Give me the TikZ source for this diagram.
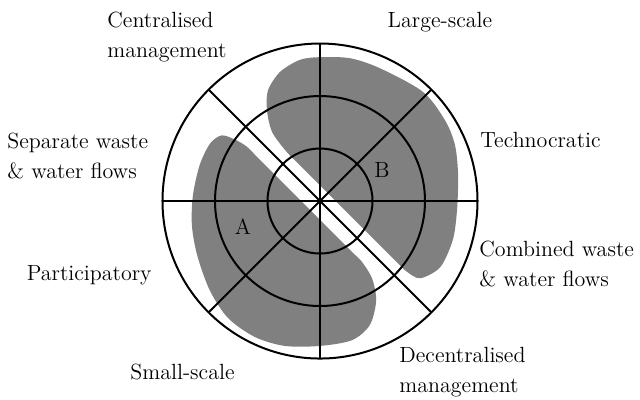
\documentclass[tikz,border=0pt]{standalone}
\usepackage{tikz}
\definecolor{blobgray}{gray}{0.5}
\begin{document}
\begin{tikzpicture}[x=26.25pt,y=26.25pt]
	\tikzstyle{lbl} = [inner sep=0pt,align=left,font=\fontsize{11}{15}\selectfont]
	\tikzstyle{grid} = [line width=1pt]
	\useasboundingbox (-6.095,-3.771) rectangle (6.095,3.829);

	% region B
	\fill[blobgray] plot[smooth] coordinates {(-0.45,0.75) (-0.63,0.93) (-0.91,1.31) (-1.01,1.73) (-0.99,2.11) (-0.76,2.46) (-0.38,2.69) (0,2.74) (0.57,2.72) (1.14,2.53) (1.96,2.08) (2.38,1.54) (2.57,1.07) (2.63,0.50) (2.61,-0.17) (2.53,-0.74) (2.29,-1.26) (1.91,-1.47) (1.66,-1.35) (1.50,-1.20)} -- cycle;
	% region A
	\fill[blobgray] plot[smooth] coordinates {(-1.20,0.84) (-1.40,1.04) (-1.62,1.17) (-1.87,1.25) (-2.09,1.10) (-2.29,0.69) (-2.42,0.11) (-2.44,-0.46) (-2.34,-1.03) (-2.10,-1.70) (-1.75,-2.23) (-1.24,-2.59) (-0.67,-2.76) (0,-2.76) (0.61,-2.65) (0.95,-2.36) (1.07,-1.89) (0.99,-1.47) (0.80,-1.16) (0.65,-1.01)} -- cycle;

	\draw[grid] (0,0) circle (1) (0,0) circle (2) (0,0) circle (3);
	\foreach \a in {0,45,90,135}
		\draw[grid] (\a:3) -- (\a+180:3);

	\node[lbl,anchor=west] (central) at (-4.057,3.124) {Centralised\\management};
	\node[lbl,anchor=base] (large) at (2.286,3.314) {Large-scale};
	\node[lbl,anchor=base west] (techno) at (3.048,1.010) {Technocratic};
	\node[lbl,anchor=west] (separate) at (-5.962,0.867) {Separate waste\\\& water flows};
	\node[lbl,anchor=west] (combined) at (3.029,-1.190) {Combined waste\\\& water flows};
	\node[lbl,anchor=base east] (partic) at (-3.2,-1.505) {Participatory};
	\node[lbl,anchor=base] (small) at (-2.619,-3.390) {Small-scale};
	\node[lbl,anchor=west] (decentral) at (1.505,-3.257) {Decentralised\\management};
	\node[lbl] (a) at (-1.467,-0.495) {A};
	\node[lbl] (b) at (1.181,0.590) {B};
\end{tikzpicture}
\end{document}
